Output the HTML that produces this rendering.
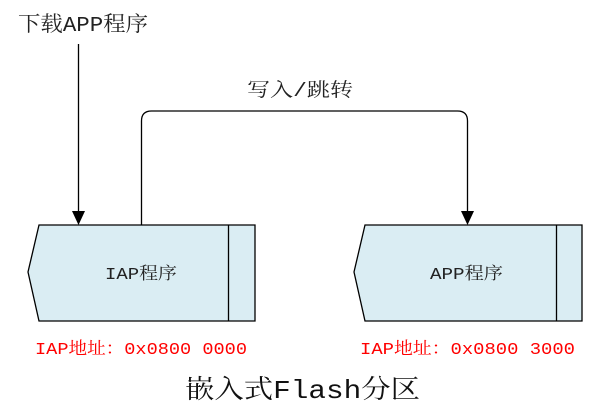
<!DOCTYPE html>
<html><head><meta charset="utf-8"><style>
html,body{margin:0;padding:0;background:#fff;width:604px;height:420px;overflow:hidden}
text{font-family:"Liberation Mono","Noto Serif CJK SC",serif;}
</style></head><body>
<svg width="604" height="420" viewBox="0 0 604 420" xmlns="http://www.w3.org/2000/svg">
<polygon points="39,225 255,225 255,321 39,321 28,272" fill="#daedf3" stroke="#000" stroke-width="1.3"/>
<line x1="228.5" y1="225" x2="228.5" y2="321" stroke="#000" stroke-width="1.3"/>
<polygon points="365,225 582,225 582,321 365,321 354,272" fill="#daedf3" stroke="#000" stroke-width="1.3"/>
<line x1="556.5" y1="225" x2="556.5" y2="321" stroke="#000" stroke-width="1.3"/>
<line x1="78.5" y1="44" x2="78.5" y2="212" stroke="#000" stroke-width="1.3"/>
<polygon points="72,211 85,211 78.5,225" fill="#000"/>
<path d="M141.5,225 V121 Q141.5,111 151.5,111 H457.5 Q467.5,111 467.5,121 V212" fill="none" stroke="#000" stroke-width="1.3"/>
<polygon points="461,211 474,211 467.5,225" fill="#000"/>
<text x="18" y="31" font-size="21" textLength="130" lengthAdjust="spacingAndGlyphs" fill="#222">下载APP程序</text>
<text x="247" y="96" font-size="19" textLength="106" lengthAdjust="spacingAndGlyphs" fill="#222">写入/跳转</text>
<text x="105" y="279" font-size="17" textLength="72" lengthAdjust="spacingAndGlyphs" fill="#222">IAP程序</text>
<text x="430" y="279" font-size="17" textLength="73" lengthAdjust="spacingAndGlyphs" fill="#222">APP程序</text>
<text x="35" y="354" font-size="17" textLength="212" lengthAdjust="spacingAndGlyphs" fill="#f00">IAP地址：0x0800 0000</text>
<text x="360" y="354" font-size="17" textLength="215" lengthAdjust="spacingAndGlyphs" fill="#f00">IAP地址：0x0800 3000</text>
<text x="185" y="398" font-size="26" textLength="235" lengthAdjust="spacingAndGlyphs" fill="#111">嵌入式Flash分区</text>
</svg>
</body></html>
